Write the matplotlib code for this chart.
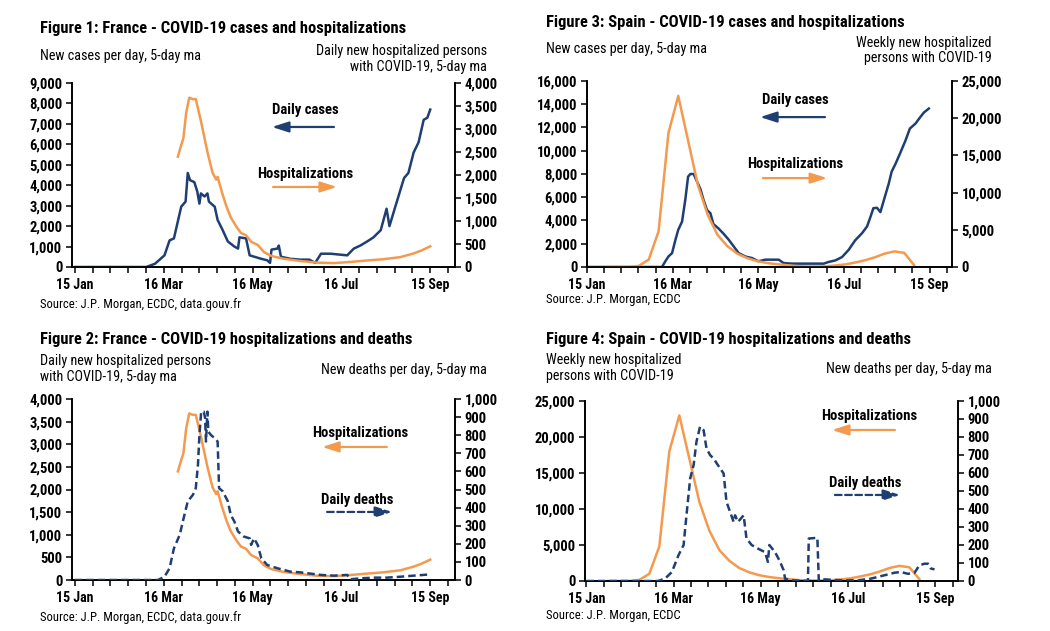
import matplotlib
matplotlib.use("Agg")
import matplotlib.pyplot as plt
from matplotlib import font_manager as fm
from matplotlib.ticker import FuncFormatter, MultipleLocator

# ---------------- data (day offsets from 15 Jan 2020) ----------------
tick_labels = ["15 Jan", "16 Mar", "16 May", "16 Jul", "15 Sep"]
label_days = [0, 61, 122, 183, 244]

fr_case_day = [0, 49, 55, 61.5, 65, 68, 73, 76, 77.5, 79, 82, 84, 85.5, 86.5, 89, 91, 92, 96, 98,
               101.5, 105, 109.5, 112, 113, 117.5, 120, 128, 132, 134, 135, 139, 140, 141.5, 148,
               155, 161, 165, 169, 175.6, 187, 191.5, 196, 200.7, 205, 210, 214, 216, 220, 226,
               229, 232.6, 236, 239.5, 242, 244]
fr_case_val = [0, 0, 160, 570, 1300, 1400, 2950, 3200, 4600, 4250, 4150, 3700, 3100, 3600, 3450,
               3600, 3200, 2950, 2300, 1800, 1250, 1000, 900, 1450, 1400, 570, 400, 330, 200, 850,
               900, 1050, 500, 400, 360, 360, 200, 650, 650, 570, 900, 1050, 1250, 1450, 1800,
               2850, 2000, 2950, 4350, 4600, 5600, 6100, 7200, 7300, 7700]

fr_hosp_day = [70.7, 73, 74.5, 76.4, 78.5, 81, 83, 86.7, 91, 94.5, 97, 98, 101, 104, 107, 111, 114,
               117.5, 121, 125.5, 130, 135, 143, 155, 166, 178, 189, 200, 212, 223.5, 232.6, 238, 244]
fr_hosp_val = [2400, 2650, 2800, 3350, 3680, 3650, 3650, 3150, 2500, 2050, 1900, 1960, 1620, 1320,
               1080, 870, 740, 690, 550, 480, 320, 240, 180, 130, 95, 85, 110, 140, 170, 215, 295,
               360, 450]

fr_death_day = [0, 57, 61.5, 65, 68, 72, 74, 77.5, 81, 83, 84.5, 85.5, 86.7, 88.5, 89.4, 90, 91,
                91.6, 93.5, 95.8, 98, 99, 101.5, 105, 107, 109.5, 112, 116, 120, 121, 123, 125.5,
                128, 132, 139, 148, 155, 162, 169, 178, 187, 189, 196, 205, 214, 223.5, 232.6, 244]
fr_death_val = [0, 0, 18, 65, 175, 250, 320, 435, 470, 507, 637, 800, 930, 930, 895, 765, 930, 820,
                800, 785, 765, 507, 490, 435, 360, 323, 268, 240, 230, 194, 230, 194, 120, 83, 65,
                46, 42, 35, 28, 24, 28, 4, 9, 13, 13, 18, 24, 31]

es_case_day = [0, 53.4, 55.8, 58, 60.6, 63, 65, 67.7, 70, 72, 73.6, 76, 78.4, 80.8, 83, 85.5, 87.9,
               90, 93.8, 97, 101, 104.5, 108, 112.8, 117.6, 122, 127, 136.6, 140, 146, 158, 168.6,
               172, 177, 181.7, 186.5, 191, 196, 199.5, 202, 204, 206.6, 209, 211.4, 215, 217,
               219.7, 223, 226.8, 230, 234, 237.5, 240, 243.5]
es_case_val = [0, 0, 490, 900, 1200, 2340, 3200, 3900, 5770, 7770, 8000, 8000, 7340, 6700, 5770,
               4900, 4630, 3700, 3300, 2900, 2340, 1770, 1200, 900, 770, 490, 630, 630, 340, 290,
               290, 290, 430, 570, 860, 1490, 2290, 2920, 3490, 4340, 5060, 5090, 4720, 5720,
               7200, 8200, 8860, 9770, 10860, 11910, 12340, 12910, 13290, 13630]

es_hosp_day = [15, 23, 30, 37, 44, 51, 58, 65, 72, 79, 86, 93, 100, 107, 114, 121, 128, 135, 142,
               149, 156, 163, 170, 177, 184, 191, 198, 205, 212, 219, 226, 233]
es_hosp_val = [0, 0, 0, 150, 1000, 4800, 18000, 23000, 17000, 11000, 7000, 4300, 2800, 1800, 1200,
               800, 550, 380, 250, 120, 80, 70, 90, 200, 350, 600, 900, 1300, 1800, 2100, 1900, 250]

es_death_day = [0, 50, 55, 59.8, 64.4, 68, 70, 72.6, 75, 77, 79.5, 82, 84, 86.5, 89, 92, 96, 98,
                100.5, 103, 104, 106, 110, 112, 115.6, 120, 125, 127, 128, 132, 135, 138, 139,
                143.5, 155, 155.6, 161.6, 162.6, 166.7, 178, 190, 199, 208.6, 215.6, 220, 225,
                229.5, 233, 236.5, 239, 241, 243.6]
es_death_val = [0, 0, 13, 50, 143, 200, 365, 570, 644, 774, 857, 838, 737, 700, 680, 644, 597, 440,
                384, 328, 365, 328, 365, 236, 200, 180, 160, 106, 200, 160, 115, 60, 13, 4, 0, 236,
                240, 0, 9, 4, 4, 13, 32, 46, 50, 40, 45, 87, 96, 96, 69, 65]

# ---------------- style ----------------
BLUE = "#1f3f73"
ORANGE = "#f39a4f"
W, H = 1050, 631

# choose a narrow sans if one is installed
entries = fm.fontManager.ttflist
names = {f.name for f in entries}
if "Liberation Sans Narrow" in names:
    FAM, K = "Liberation Sans Narrow", 1.0
elif "Arial Narrow" in names:
    FAM, K = "Arial Narrow", 1.0
elif "Roboto Condensed" in names:
    FAM, K = "Roboto Condensed", 0.93
else:
    FAM, K = "Liberation Sans", 0.84
plt.rcParams["font.family"] = [FAM, "DejaVu Sans"]

fig = plt.figure(figsize=(W / 100, H / 100), dpi=100)
fig.patch.set_facecolor("white")

comma = FuncFormatter(lambda v, p: f"{int(round(v)):,}")


def ftext(x, y, s, **kw):
    fig.text(x / W, 1 - y / H, s, **kw)


def make_axes(l, r, t, b, xlim, ylim_l, step_l, ylim_r, step_r):
    ax = fig.add_axes([l / W, 1 - b / H, (r - l) / W, (b - t) / H])
    ax2 = ax.twinx()
    for a in (ax, ax2):
        a.spines["top"].set_visible(False)
        for s in ("left", "right", "bottom"):
            a.spines[s].set_color("black")
            a.spines[s].set_linewidth(1.2)
        a.set_xlim(*xlim)
    ax.set_ylim(*ylim_l)
    ax2.set_ylim(*ylim_r)
    ax.yaxis.set_major_locator(MultipleLocator(step_l))
    ax2.yaxis.set_major_locator(MultipleLocator(step_r))
    ax.yaxis.set_major_formatter(comma)
    ax2.yaxis.set_major_formatter(comma)
    ticks = [k * 61 / 5 for k in range(22)]
    labs = [""] * 22
    for d, t_ in zip(label_days, tick_labels):
        labs[int(round(d * 5 / 61))] = t_
    ax.set_xticks(ticks)
    ax.set_xticklabels(labs, fontsize=10.8 * K, fontweight="bold")
    ax.tick_params(axis="x", direction="out", length=4, width=1.1, pad=4)
    ax.tick_params(axis="y", direction="out", length=4, width=1.1, labelsize=11.3 * K, pad=3)
    ax2.tick_params(axis="y", direction="out", length=4, width=1.1, labelsize=11.3 * K, pad=3)
    for lab in ax.get_yticklabels() + ax2.get_yticklabels():
        lab.set_fontweight("bold")
    ax.patch.set_visible(False)
    return ax, ax2


def arrow(ax, x0, x1, y, color, dashed=False):
    ax.annotate("", xy=(x1, y), xytext=(x0, y), xycoords="axes fraction",
                arrowprops=dict(arrowstyle="-|>,head_length=1.0,head_width=0.32",
                                color=color, lw=1.6,
                                linestyle=(0, (3, 1.6)) if dashed else "-",
                                shrinkA=0, shrinkB=0))


def label(ax, x, y, s):
    ax.text(x, y, s, transform=ax.transAxes, ha="center", va="center",
            fontsize=11.4 * K, fontweight="bold", color="black")


TS = 12.8 * K
SS = 10.9 * K
SRC = 9.8 * K

# ---------- Figure 1 ----------
a1, b1 = make_axes(72, 455, 83, 267, (-2, 261), (0, 9000), 1000, (0, 4000), 500)
a1.plot(fr_case_day, fr_case_val, color=BLUE, lw=1.8, zorder=3)
b1.plot(fr_hosp_day, fr_hosp_val, color=ORANGE, lw=1.8, zorder=2)
label(a1, 0.608, 0.853, "Daily cases")
arrow(a1, 0.684, 0.522, 0.761, BLUE)
label(a1, 0.608, 0.505, "Hospitalizations")
arrow(a1, 0.525, 0.692, 0.435, ORANGE)
ftext(40, 28, "Figure 1: France - COVID-19 cases and hospitalizations", fontsize=TS,
      fontweight="bold", va="center")
ftext(40, 56, "New cases per day, 5-day ma", fontsize=SS, va="center")
ftext(487, 59, "Daily new hospitalized persons\nwith COVID-19, 5-day ma", fontsize=SS,
      va="center", ha="right", multialignment="right", linespacing=1.1)
ftext(40, 304, "Source: J.P. Morgan, ECDC, data.gouv.fr", fontsize=SRC, va="center")

# ---------- Figure 3 ----------
a3, b3 = make_axes(587, 952, 81, 267, (0, 260), (0, 16000), 2000, (0, 25000), 5000)
a3.plot(es_case_day, es_case_val, color=BLUE, lw=1.8, zorder=3)
b3.plot(es_hosp_day, es_hosp_val, color=ORANGE, lw=1.8, zorder=2)
label(a3, 0.570, 0.898, "Daily cases")
arrow(a3, 0.652, 0.474, 0.806, BLUE)
label(a3, 0.570, 0.554, "Hospitalizations")
arrow(a3, 0.482, 0.658, 0.478, ORANGE)
ftext(546, 23, "Figure 3: Spain - COVID-19 cases and hospitalizations", fontsize=TS,
      fontweight="bold", va="center")
ftext(546, 49, "New cases per day, 5-day ma", fontsize=SS, va="center")
ftext(992, 50.5, "Weekly new hospitalized\npersons with COVID-19", fontsize=SS,
      va="center", ha="right", multialignment="right", linespacing=1.1)
ftext(546, 300, "Source: J.P. Morgan, ECDC", fontsize=SRC, va="center")

# ---------- Figure 2 ----------
a2, b2 = make_axes(72, 455, 399, 580, (-2, 261), (0, 4000), 500, (0, 1000), 100)
a2.plot(fr_hosp_day, fr_hosp_val, color=ORANGE, lw=1.8, zorder=2)
b2.plot(fr_death_day, fr_death_val, color=BLUE, lw=1.8, ls=(0, (3, 1.6)), zorder=3)
label(a2, 0.752, 0.812, "Hospitalizations")
arrow(a2, 0.822, 0.653, 0.735, ORANGE)
label(a2, 0.744, 0.442, "Daily deaths")
arrow(a2, 0.666, 0.836, 0.376, BLUE, dashed=True)
ftext(40, 339, "Figure 2: France - COVID-19 hospitalizations and deaths", fontsize=TS,
      fontweight="bold", va="center")
ftext(40, 369, "Daily new hospitalized persons\nwith COVID-19, 5-day ma", fontsize=SS,
      va="center", linespacing=1.1)
ftext(487, 370, "New deaths per day, 5-day ma", fontsize=SS, va="center", ha="right")
ftext(40, 617, "Source: J.P. Morgan, ECDC, data.gouv.fr", fontsize=SRC, va="center")

# ---------- Figure 4 ----------
a4, b4 = make_axes(585, 958, 401, 581, (-1, 260), (0, 25000), 5000, (0, 1000), 100)
a4.plot(es_hosp_day, es_hosp_val, color=ORANGE, lw=1.8, zorder=2)
b4.plot(es_death_day, es_death_val, color=BLUE, lw=1.8, ls=(0, (3, 1.6)), zorder=3)
label(a4, 0.761, 0.917, "Hospitalizations")
arrow(a4, 0.831, 0.662, 0.839, ORANGE)
label(a4, 0.751, 0.544, "Daily deaths")
arrow(a4, 0.670, 0.845, 0.478, BLUE, dashed=True)
ftext(546, 339, "Figure 4: Spain - COVID-19 hospitalizations and deaths", fontsize=TS,
      fontweight="bold", va="center")
ftext(546, 368, "Weekly new hospitalized\npersons with COVID-19", fontsize=SS,
      va="center", linespacing=1.1)
ftext(992, 369, "New deaths per day, 5-day ma", fontsize=SS, va="center", ha="right")
ftext(546, 616, "Source: J.P. Morgan, ECDC", fontsize=SRC, va="center")

fig.savefig("out.png", dpi=100, facecolor="white")
